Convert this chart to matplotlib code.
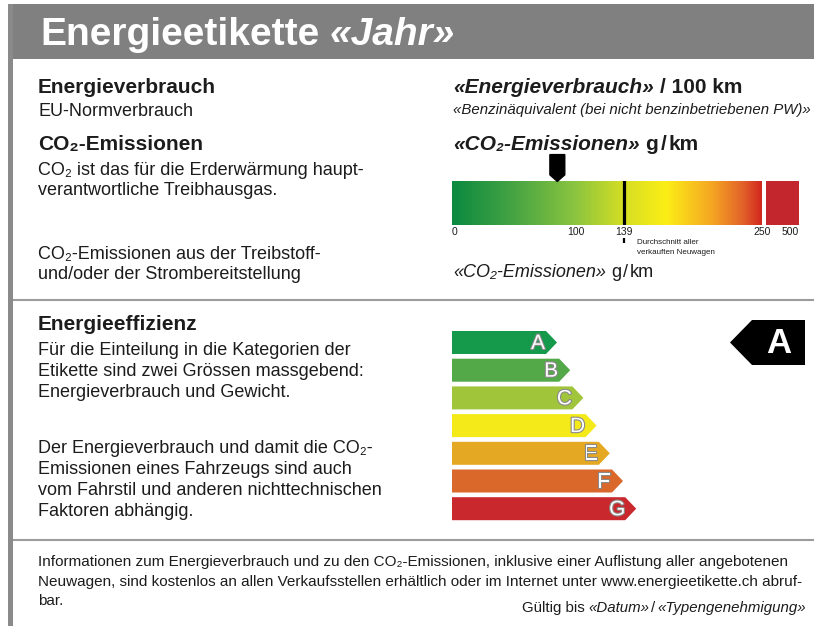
import matplotlib
matplotlib.use('Agg')
import matplotlib.pyplot as plt
import numpy as np
from matplotlib.colors import LinearSegmentedColormap
from matplotlib.patches import Rectangle, Polygon
from matplotlib.transforms import blended_transform_factory
import matplotlib.patheffects as pe

# ---------------- data ----------------
title_main = "Energieetikette"
title_var = "«Jahr»"

co2_ticks = [0, 100, 139, 250]
co2_tick_labels = ["0", "100", "139", "250"]
co2_top_label = "500"
co2_average = 139
co2_vehicle = 85
co2_scale_max = 250

grad_values = [0, 50, 100, 139, 173, 210, 235, 250]
grad_colors = ["#0b8a40", "#47a443", "#8cc53f", "#d6de24", "#fcee16",
               "#f5a623", "#e2632a", "#d2291f"]
top_block_color = "#c4262e"

classes = ["A", "B", "C", "D", "E", "F", "G"]
class_colors = ["#15994a", "#53a848", "#a1c53a", "#f4ea1a", "#e5a823",
                "#d9682a", "#c9282d"]
vehicle_class = "A"

left_top = [
    ("Energieverbrauch", "bold"),
    ("EU-Normverbrauch", "normal"),
    ("CO₂-Emissionen", "bold"),
    ("CO₂ ist das für die Erderwärmung haupt-", "normal"),
    ("verantwortliche Treibhausgas.", "normal"),
    ("CO₂-Emissionen aus der Treibstoff-", "normal"),
    ("und/oder der Strombereitstellung", "normal"),
]
eff_lines = [
    ("Energieeffizienz", "bold"),
    ("Für die Einteilung in die Kategorien der", "normal"),
    ("Etikette sind zwei Grössen massgebend:", "normal"),
    ("Energieverbrauch und Gewicht.", "normal"),
    ("Der Energieverbrauch und damit die CO₂-", "normal"),
    ("Emissionen eines Fahrzeugs sind auch", "normal"),
    ("vom Fahrstil und anderen nichttechnischen", "normal"),
    ("Faktoren abhängig.", "normal"),
]
footer_lines = [
    "Informationen zum Energieverbrauch und zu den CO₂-Emissionen, inklusive einer Auflistung aller angebotenen",
    "Neuwagen, sind kostenlos an allen Verkaufsstellen erhältlich oder im Internet unter www.energieetikette.ch abruf-",
    "bar.",
]
avg_note = ["Durchschnitt aller", "verkauften Neuwagen"]

# ---------------- setup ----------------
FAM = ['Liberation Sans', 'DejaVu Sans']
plt.rcParams['font.family'] = FAM
W, H = 814, 626
TXT = "#1c1c1c"
GRAY = "#808080"

fig = plt.figure(figsize=(W / 100, H / 100), dpi=100)
fig.patch.set_facecolor('white')
ax = fig.add_axes([0, 0, 1, 1])
ax.set_xlim(0, W)
ax.set_ylim(H, 0)
ax.axis('off')
fig.canvas.draw()
R = fig.canvas.get_renderer()


def fbox(x0, y0, x1, y1):
    return [x0 / W, 1 - y1 / H, (x1 - x0) / W, (y1 - y0) / H]


def rich(x, y, parts, size, ha='left', color=TXT):
    """parts: list of (text, weight, style); a number = a gap in em"""
    objs = []
    cx = x
    for p in parts:
        if isinstance(p, (int, float)):
            cx += p * size * 100 / 72
            continue
        txt, wt, st = p
        t = ax.text(cx, y, txt, fontsize=size, fontweight=wt, fontstyle=st,
                    va='baseline', ha='left', color=color)
        bb = t.get_window_extent(renderer=R)
        cx += bb.width
        objs.append(t)
    if ha == 'right':
        shift = cx - x
        for t in objs:
            px, py = t.get_position()
            t.set_position((px - shift, py))
    return objs


SP = 0.278

# ---------------- frame ----------------
ax.add_patch(Rectangle((8, 4), W - 8, 55, color=GRAY, lw=0))
ax.add_patch(Rectangle((8, 4), 5, H - 4, color="#8a8a8a", lw=0))
ax.plot([13, W], [300, 300], color="#9c9c9c", lw=1.5, solid_capstyle='butt')
ax.plot([13, W], [540, 540], color="#9c9c9c", lw=1.5, solid_capstyle='butt')

rich(40, 45, [(title_main, 'bold', 'normal'), SP, (title_var, 'bold', 'italic')],
     28, color='white')

# ---------------- left texts ----------------
left_base = [93, 116, 150, 175, 195, 259, 279]
for (txt, wt), yb in zip(left_top, left_base):
    ax.text(38, yb, txt, fontsize=15 if wt == 'bold' else 13, fontweight=wt,
            va='baseline', ha='left', color=TXT)

eff_base = [330, 355, 376, 397, 453, 474, 495, 516]
for (txt, wt), yb in zip(eff_lines, eff_base):
    ax.text(38, yb, txt, fontsize=15 if wt == 'bold' else 13, fontweight=wt,
            va='baseline', ha='left', color=TXT)

for txt, yb in zip(footer_lines, [566, 586, 605]):
    ax.text(38, yb, txt, fontsize=11, va='baseline', ha='left', color=TXT)
rich(806, 612, [("Gültig bis", 'normal', 'normal'), SP,
                ("«Datum»", 'normal', 'italic'), 0.12, ("/", 'normal', 'normal'), 0.12,
                ("«Typengenehmigung»", 'normal', 'italic')],
     10.8, ha='right')

# ---------------- right header texts ----------------
rich(453, 93, [("«Energieverbrauch»", 'bold', 'italic'), SP,
               ("/ 100 km", 'bold', 'normal')], 15)
ax.text(453, 114, "«Benzinäquivalent (bei nicht benzinbetriebenen PW)»",
        fontsize=10.8, fontstyle='italic', va='baseline', color=TXT)
rich(453, 150, [("«CO₂-Emissionen»", 'bold', 'italic'), SP,
                ("g", 'bold', 'normal'), 0.12, ("/", 'bold', 'normal'), 0.12,
                ("km", 'bold', 'normal')], 15)
rich(453, 277, [("«CO₂-Emissionen»", 'normal', 'italic'), SP,
                ("g", 'normal', 'normal'), 0.1, ("/", 'normal', 'normal'), 0.1,
                ("km", 'normal', 'normal')], 13)

# ---------------- CO2 gradient scale ----------------
gax = fig.add_axes(fbox(452, 181, 799, 225))
gax.set_xlim(0, 280)
gax.set_ylim(0, 1)
gax.axis('off')
stops = [(v / co2_scale_max, c) for v, c in zip(grad_values, grad_colors)]
cmap = LinearSegmentedColormap.from_list("co2", stops)
grad = np.linspace(0, co2_scale_max, 600)[None, :]
gax.imshow(grad, extent=(0, co2_scale_max, 0, 1), aspect='auto', cmap=cmap,
           vmin=0, vmax=co2_scale_max, interpolation='bilinear')
gax.add_patch(Rectangle((co2_scale_max + 3.3, 0), 280 - co2_scale_max - 3.3, 1,
                        color=top_block_color, lw=0))
gax.axvline(co2_average, color='black', lw=2.3)

bt = blended_transform_factory(gax.transData, gax.transAxes)
hw = 6.0
marker = Polygon([(co2_vehicle - hw, 1.6), (co2_vehicle + hw, 1.6),
                  (co2_vehicle + hw, 1.14), (co2_vehicle, 0.99),
                  (co2_vehicle - hw, 1.14)], closed=True, color='black',
                 transform=bt, clip_on=False)
gax.add_patch(marker)

for v, lab in zip(co2_ticks, co2_tick_labels):
    gax.text(v, -0.23, lab, transform=bt, fontsize=7.5, ha='left' if v == 0 else 'center',
             va='baseline', color=TXT)
gax.text(280, -0.23, co2_top_label, transform=bt, fontsize=7.5, ha='right',
         va='baseline', color=TXT)
gax.plot([co2_average, co2_average], [-0.30, -0.41], transform=bt, color='black',
         lw=1.6, clip_on=False, solid_capstyle='butt')
for i, t in enumerate(avg_note):
    gax.text(co2_average + 10, -0.43 - i * 0.23, t, transform=bt, fontsize=5.8,
             ha='left', va='baseline', color=TXT)

# ---------------- efficiency arrows ----------------
top0, pitch, h = 331, 27.7, 23
x0, tip0, step, tiplen = 452, 557, 13.2, 11
for i, (c, col) in enumerate(zip(classes, class_colors)):
    top = top0 + i * pitch
    tip = tip0 + i * step
    be = tip - tiplen
    ax.add_patch(Polygon([(x0, top), (be, top), (tip, top + h / 2), (be, top + h),
                          (x0, top + h)], closed=True, color=col, lw=0))
    ax.text(tip - 19, top + h / 2 + 1, c, fontsize=15, color='white', ha='center',
            va='center', path_effects=[pe.withStroke(linewidth=1.6, foreground='#8a8a8a')])

vi = classes.index(vehicle_class)
cy = top0 + vi * pitch + h / 2
ax.add_patch(Polygon([(730, cy), (752, cy - 22.5), (805, cy - 22.5), (805, cy + 22.5),
                      (752, cy + 22.5)], closed=True, color='black', lw=0))
ax.text(779, cy + 1, vehicle_class, fontsize=25, fontweight='bold', color='white',
        ha='center', va='center')

fig.savefig("out.png", dpi=100, facecolor='white')
